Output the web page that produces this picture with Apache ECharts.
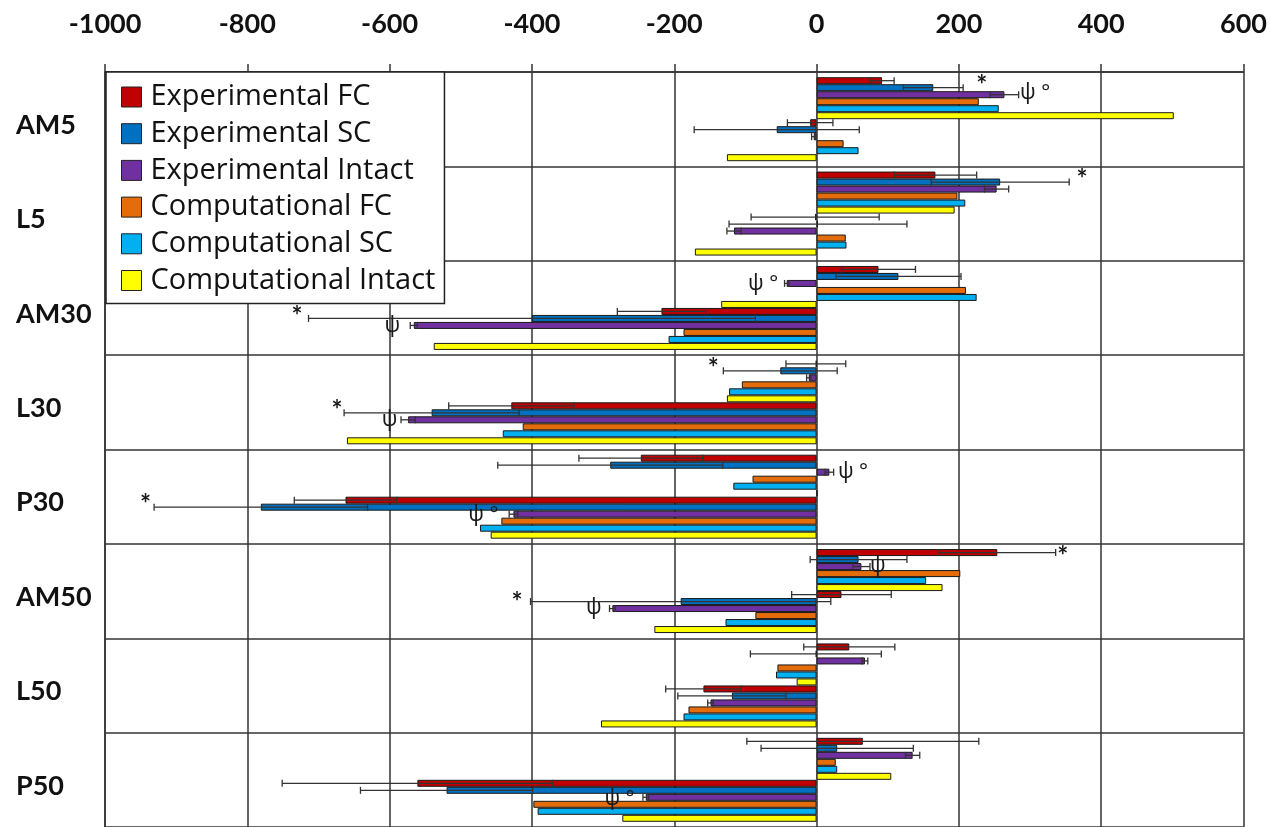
<!DOCTYPE html>
<html>
<head>
<meta charset="utf-8">
<script src="https://cdn.jsdelivr.net/npm/echarts@6/dist/echarts.min.js"></script>
<style>
html,body{margin:0;padding:0;background:#fff;}
#chart{width:1270px;height:827px;}
</style>
</head>
<body>
<div id="chart"></div>
<script>
// ---------- DATA ----------
const categories = ['AM5', 'L5', 'AM30', 'L30', 'P30', 'AM50', 'L50', 'P50'];
const seriesNames = ['Experimental FC', 'Experimental SC', 'Experimental Intact',
                     'Computational FC', 'Computational SC', 'Computational Intact'];
const xTicks = [-1000, -800, -600, -400, -200, 0, 200, 400, 600];

// first (upper) sub-group of bars in each category
const expFC_A   = [92, 167, 87, -1, -247, 254, 46, 65];
const expFC_A_sd = [17, 58, 52, 42, 87, 82, 64, 163];
const expSC_A   = [164, 258, 115, -51, -290, 59, -1, 29];
const expSC_A_sd = [42, 97, 88, 80, 158, 68, 92, 107];
const expInt_A  = [264, 253, -42, -11, 18, 63, 68, 135];
const expInt_A_sd = [20, 17, 3, 3, 6, 12, 4, 10];
const compFC_A  = [228, 198, 210, -105, -90, 202, -55, 27];
const compSC_A  = [256, 209, 225, -123, -117, 154, -57, 29];
const compInt_A = [502, 194, -134, -126, 1, 177, -28, 105];

// second (lower) sub-group of bars in each category
const expFC_B   = [-9, -2, -218, -429, -662, 35, -159, -561];
const expFC_B_sd = [32, 90, 62, 88, 72, 70, 53, 190];
const expSC_B   = [-56, 2, -400, -541, -781, -191, -119, -520];
const expSC_B_sd = [116, 125, 314, 123, 150, 211, 76, 121];
const expInt_B  = [-4, -116, -566, -574, -426, -287, -149, -240];
const expInt_B_sd = [3, 10, 5, 10, 6, 4, 4, 4];
const compFC_B  = [38, 41, -187, -413, -443, -86, -180, -398];
const compSC_B  = [59, 42, -208, -441, -473, -128, -187, -392];
const compInt_B = [-126, -171, -538, -660, -458, -228, -303, -273];

// significance marks: category, bar slot (0-11, fractional), x value, text, anchor
const noteCat   = [0, 0, 1, 2, 2, 2, 3, 3, 3, 4, 4, 4, 5, 5, 5, 5, 7];
const noteSlot  = [0.7, 1.8, 0.7, 2.1, 6.8, 8.1, 0.75, 6.7, 8.0, 2.0, 6.6, 8.1, 0.64, 1.9, 7.2, 7.9, 8.3];
const noteX     = [232, 286, 373, -54, -730, -596, -145, -674, -600, 30, -943, -447, 346, 86, -421, -313, -277];
const noteText  = ['*', 'ψ °', '*', 'ψ °', '*', 'ψ', '*', '*', 'ψ', 'ψ °', '*', 'ψ °', '*', 'ψ', '*', 'ψ', 'ψ °'];
const noteAlign = ['center', 'left', 'center', 'right', 'center', 'center', 'center', 'center', 'center',
                   'left', 'center', 'right', 'center', 'center', 'center', 'center', 'center'];

// ---------- STYLE ----------
const colors = ['#C00000', '#0070C0', '#7030A0', '#E46C0A', '#00B0F0', '#FFFF00'];
const GAP = 0.11;
const FONT = 'Lato';

const groupA = [expFC_A, expSC_A, expInt_A, compFC_A, compSC_A, compInt_A];
const groupB = [expFC_B, expSC_B, expInt_B, compFC_B, compSC_B, compInt_B];

function slotY(center, band, slot) {
  const inner = band * (1 - GAP);
  return center - inner / 2 + (slot + 0.5) * inner / 12;
}

const series = [];
[groupA, groupB].forEach(function (grp) {
  grp.forEach(function (vals, k) {
    series.push({
      name: seriesNames[k],
      type: 'bar',
      data: vals,
      barGap: '0%',
      barCategoryGap: (GAP * 100) + '%',
      itemStyle: { color: colors[k], borderColor: '#1a1a1a', borderWidth: 1 },
      emphasis: { disabled: true },
      z: 2
    });
  });
});

const errSets = [
  [expFC_A, expFC_A_sd, 0], [expSC_A, expSC_A_sd, 1], [expInt_A, expInt_A_sd, 2],
  [expFC_B, expFC_B_sd, 6], [expSC_B, expSC_B_sd, 7], [expInt_B, expInt_B_sd, 8]
];
errSets.forEach(function (es) {
  const slot = es[2];
  series.push({
    type: 'custom',
    name: 'err' + slot,
    silent: true,
    z: 5,
    encode: { x: 0, y: 1 },
    data: es[0].map(function (v, i) { return [v, i, es[1][i]]; }),
    renderItem: function (params, api) {
      const v = api.value(0), ci = api.value(1), sd = api.value(2);
      const c = api.coord([v, ci]);
      const band = api.size([0, 1])[1];
      const y = slotY(c[1], band, slot);
      const lo = api.coord([v - sd, ci])[0];
      const hi = api.coord([v + sd, ci])[0];
      const cap = band * (1 - GAP) / 12 * 0.5;
      const st = { stroke: '#333', lineWidth: 1.3 };
      return {
        type: 'group',
        children: [
          { type: 'line', shape: { x1: lo, y1: y, x2: hi, y2: y }, style: st },
          { type: 'line', shape: { x1: lo, y1: y - cap, x2: lo, y2: y + cap }, style: st },
          { type: 'line', shape: { x1: hi, y1: y - cap, x2: hi, y2: y + cap }, style: st }
        ]
      };
    }
  });
});

series.push({
  type: 'custom',
  name: 'notes',
  silent: true,
  z: 6,
  encode: { x: 0, y: 1 },
  data: noteX.map(function (x, i) { return [x, noteCat[i]]; }),
  renderItem: function (params, api) {
    const i = params.dataIndex;
    const c = api.coord([api.value(0), api.value(1)]);
    const band = api.size([0, 1])[1];
    const y = slotY(c[1], band, noteSlot[i]);
    const star = noteText[i] === '*';
    return {
      type: 'text',
      x: c[0], y: y,
      style: {
        text: noteText[i],
        align: noteAlign[i],
        verticalAlign: 'middle',
        fontSize: star ? 26 : 21,
        fontWeight: star ? 'bold' : 'normal',
        fontFamily: star ? FONT : 'Noto Sans',
        fill: '#1a1a1a'
      }
    };
  }
});

const chart = echarts.init(document.getElementById('chart'), null, { renderer: 'canvas' });
chart.setOption({
  animation: false,
  backgroundColor: '#fff',
  grid: { left: 105, right: 26, top: 72, bottom: 0, containLabel: false },
  legend: {
    data: seriesNames,
    orient: 'vertical',
    left: 106, top: 72,
    backgroundColor: '#fff',
    borderColor: '#222',
    borderWidth: 1.5,
    padding: [10.5, 9, 8.5, 15],
    itemWidth: 20, itemHeight: 20,
    itemGap: 7.7,
    icon: 'rect',
    itemStyle: { borderColor: '#222', borderWidth: 1 },
    textStyle: { fontSize: 29, fontFamily: 'Open Sans', color: '#111', padding: [0, 0, 0, 4] },
    selectedMode: false
  },
  xAxis: {
    type: 'value',
    position: 'top',
    min: xTicks[0], max: xTicks[xTicks.length - 1], interval: 200,
    axisLine: { show: true, lineStyle: { color: '#333', width: 1.5 } },
    axisTick: { show: true, length: 8, lineStyle: { color: '#333', width: 1.5 } },
    axisLabel: { fontSize: 27, fontWeight: 'bold', fontFamily: FONT, color: '#111', margin: 34,
                 formatter: function (v) { return String(v); } },
    splitLine: { show: true, lineStyle: { color: '#333', width: 1.5 } }
  },
  yAxis: {
    type: 'category',
    inverse: true,
    data: categories,
    axisLine: { show: true, onZero: false, lineStyle: { color: '#333', width: 1.5 } },
    axisTick: { show: false },
    axisLabel: {
      align: 'left', margin: 89, color: '#111',
      formatter: function (v) { return '{c|' + v + '}'; },
      rich: { c: { fontSize: 27, fontWeight: 'bold', fontFamily: FONT, color: '#111', padding: [12, 0, 0, 0] } }
    },
    splitLine: { show: true, lineStyle: { color: '#333', width: 1.5 } }
  },
  series: series
});
</script>
</body>
</html>
